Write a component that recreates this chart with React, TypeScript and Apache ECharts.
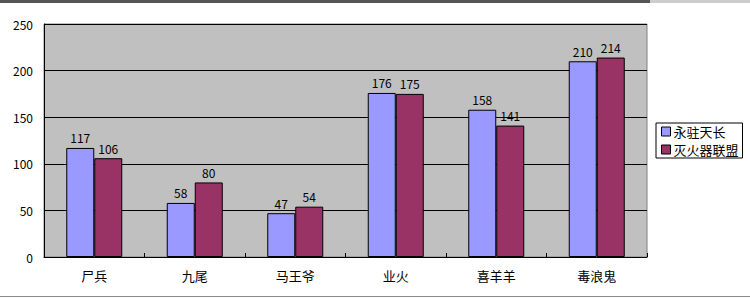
import React, { useEffect, useRef } from "react";
import * as echarts from "echarts";

const categories = ["尸兵", "九尾", "马王爷", "业火", "喜羊羊", "毒浪鬼"];
const seriesNames = ["永驻天长", "灭火器联盟"];
const valuesA = [117, 58, 47, 176, 158, 210];
const valuesB = [106, 80, 54, 175, 141, 214];
const colors = ["#9999FF", "#993366"];

export default function App() {
  const ref = useRef<HTMLDivElement>(null);
  useEffect(() => {
    if (!ref.current) return;
    const chart = echarts.init(ref.current, null, { renderer: "svg" });
    const font = "'Noto Sans CJK SC', 'Noto Sans', sans-serif";
    const mk = (name: string, data: number[], color: string) => ({
      name,
      type: "bar",
      data,
      barWidth: 28,
      barGap: "0%",
      itemStyle: { color, borderColor: "#000", borderWidth: 1 },
      label: {
        show: true,
        position: "top",
        distance: 4,
        color: "#000",
        fontSize: 12,
        fontFamily: font,
      },
    });
    chart.setOption({
      animation: false,
      backgroundColor: "#fff",
      grid: {
        left: 44,
        right: 103,
        top: 24,
        bottom: 41,
        show: true,
        backgroundColor: "#C0C0C0",
        borderColor: "#808080",
        borderWidth: 1,
      },
      legend: {
        orient: "vertical",
        left: 656,
        top: 123,
        itemWidth: 9,
        itemHeight: 9,
        itemGap: 5,
        padding: [2, 4, 2, 5],
        borderColor: "#000",
        borderWidth: 1,
        backgroundColor: "#fff",
        icon: "rect",
        textStyle: { color: "#000", fontSize: 13, lineHeight: 13, fontFamily: font, padding: [0, 0, 0, -2] },
        data: seriesNames.map((n, i) => ({
          name: n,
          itemStyle: { color: colors[i], borderColor: "#000", borderWidth: 1 },
        })),
      },
      xAxis: {
        type: "category",
        data: categories,
        axisLine: { lineStyle: { color: "#000", width: 1 } },
        axisTick: { show: true, inside: true, length: 4, lineStyle: { color: "#000" } },
        axisLabel: { color: "#000", fontSize: 13, margin: 12, fontFamily: font },
      },
      yAxis: {
        type: "value",
        min: 0,
        max: 250,
        interval: 50,
        axisLine: { show: true, lineStyle: { color: "#000", width: 1 } },
        axisTick: { show: false },
        axisLabel: { color: "#000", fontSize: 12, margin: 11, fontFamily: font },
        splitLine: { show: true, lineStyle: { color: "#000", width: 1 } },
      },
      graphic: [
        { type: "rect", shape: { x: 0, y: 0, width: 650, height: 3 }, style: { fill: "#555" } },
        { type: "rect", shape: { x: 650, y: 0, width: 100, height: 3 }, style: { fill: "#ccc" } },
        { type: "rect", shape: { x: 0, y: 296, width: 750, height: 1 }, style: { fill: "#888" } },
      ],
      series: [mk(seriesNames[0], valuesA, colors[0]), mk(seriesNames[1], valuesB, colors[1])],
    });
    return () => chart.dispose();
  }, []);
  return <div ref={ref} style={{ width: 750, height: 298, position: "absolute", left: 0, top: 0 }} />;
}
